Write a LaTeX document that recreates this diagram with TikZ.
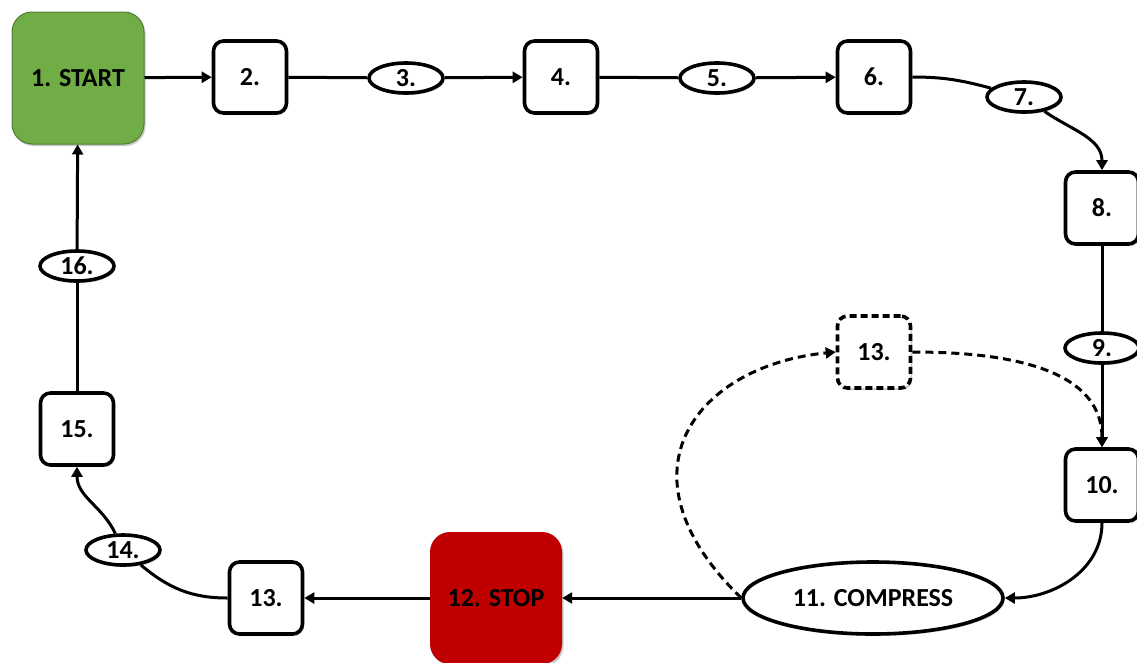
\documentclass[tikz,border=0pt]{standalone}
\usepackage{fontspec}
\setmainfont{Carlito}
\usetikzlibrary{shapes.geometric,arrows.meta,shadows}
\definecolor{startgreen}{HTML}{70AD47}
\definecolor{startedge}{HTML}{507E32}
\definecolor{stopred}{HTML}{C00000}
\begin{document}
\begin{tikzpicture}[x=1pt,y=-1pt,
  lbl/.style={font=\fontsize{26}{30}\selectfont\bfseries},
  shad/.style={drop shadow={shadow xshift=1.5pt,shadow yshift=-2pt,opacity=0.35,fill=black!60}},
  box/.style={lbl,shad,draw,line width=3.6pt,rounded corners=10pt,minimum width=73pt,minimum height=72pt,fill=white,inner sep=0pt},
  dbox/.style={box,dashed,dash pattern=on 7pt off 4pt},
  oval/.style={lbl,shad,draw,ellipse,line width=3.6pt,minimum width=74pt,minimum height=30pt,inner sep=0pt,fill=white},
  bigbox/.style={lbl,shad,rounded corners=20pt,minimum width=132pt,minimum height=132pt,inner sep=0pt},
  conn/.style={line width=3pt},
  arr/.style={conn,-{Triangle[length=10pt,width=11pt]}},
  darr/.style={arr,dashed,dash pattern=on 8pt off 5pt}]
\useasboundingbox (0,0) rectangle (1137,662);
% nodes
\node[bigbox,fill=startgreen,draw=startedge,line width=1pt] (n1) at (78,78) {1. START};
\node[box] (n2) at (250,77) {2.};
\node[oval] (n3) at (406,78) {3.};
\node[box] (n4) at (561,77) {4.};
\node[oval] (n5) at (717,78) {5.};
\node[box] (n6) at (874,77) {6.};
\node[oval] (n7) at (1024,97) {7.};
\node[box] (n8) at (1102,208) {8.};
\node[oval] (n9) at (1102,348) {9.};
\node[dbox] (d13) at (874,352) {13.};
\node[box] (n10) at (1102,485) {10.};
\node[oval,minimum width=260pt,minimum height=72pt] (n11) at (873,598) {11. COMPRESS};
\node[bigbox,fill=stopred] (n12) at (496,598) {12. STOP};
\node[box] (n13) at (266,598) {13.};
\node[oval] (n14) at (123,550) {14.};
\node[box] (n15) at (77,429) {15.};
\node[oval] (n16) at (77,266) {16.};
% connectors
\draw[arr] (n1) -- (n2);
\draw[conn] (n2) -- (n3);
\draw[arr] (n3) -- (n4);
\draw[conn] (n4) -- (n5);
\draw[arr] (n5) -- (n6);
\draw[conn] (n6.east) to[out=0,in=165] (n7);
\draw[arr] (n7) to[out=-35,in=90] (n8.north);
\draw[conn] (n8) -- (n9);
\draw[arr] (n9) -- (n10);
\draw[arr] (n10.south) to[out=-90,in=0] (n11.east);
\draw[arr] (n11) -- (n12);
\draw[arr] (n12) -- (n13);
\draw[conn] (n13.west) to[out=180,in=-40] (n14);
\draw[arr] (n14) to[out=115,in=-90] (n15.south);
\draw[conn] (n15) -- (n16);
\draw[arr] (n16) -- (n1);
\draw[darr] (n11.west) .. controls (610,470) and (700,365) .. (d13.west);
\draw[darr] (d13.east) to[out=0,in=90] (n10.north);
\end{tikzpicture}
\end{document}
